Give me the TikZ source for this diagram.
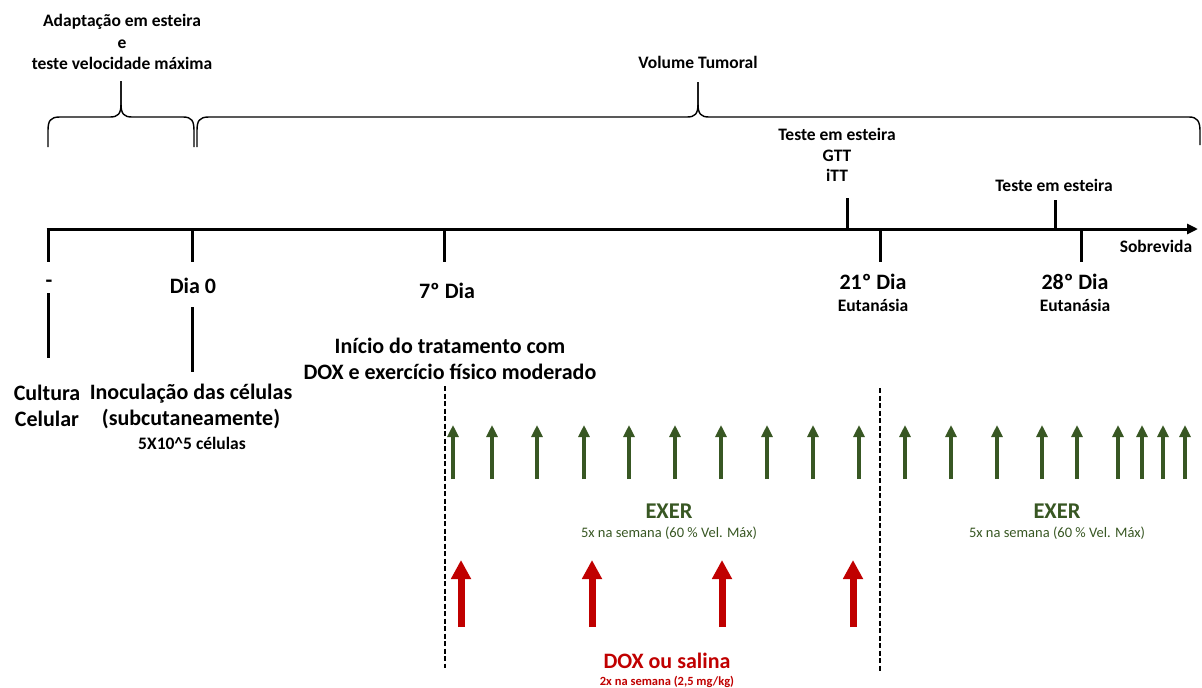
\documentclass[tikz,border=0pt]{standalone}
\usepackage{fontspec}
\setmainfont{Carlito}
\usetikzlibrary{arrows.meta}
\definecolor{exgreen}{HTML}{385723}
\definecolor{doxred}{HTML}{C00000}
\begin{document}
\begin{tikzpicture}[x=1pt,y=-1pt,
  big/.style={font=\bfseries\fontsize{22}{26}\selectfont, align=center, inner sep=0pt},
  mid/.style={font=\bfseries\fontsize{17.5}{20.5}\selectfont, align=center, inner sep=0pt},
  axisline/.style={line width=3pt, -{Triangle[width=10pt,length=11pt]}},
  tickline/.style={line width=3pt},
  bracepath/.style={line width=1.4pt, line join=round},
  dashline/.style={line width=1.5pt, dash pattern=on 5pt off 2.5pt},
  exarrow/.style={draw=exgreen, line width=4.8pt, -{Triangle[width=11pt,length=12pt]}},
  doxarrow/.style={draw=doxred, line width=7pt, -{Triangle[width=19pt,length=19pt]}},
  exhead/.style={font=\bfseries\fontsize{22.5}{26}\selectfont, text=exgreen, inner sep=0pt},
  exsub/.style={font=\fontsize{14.5}{17}\selectfont, text=exgreen, inner sep=0pt},
  doxhead/.style={font=\bfseries\fontsize{22}{26}\selectfont, text=doxred, inner sep=0pt},
  doxsub/.style={font=\bfseries\fontsize{12.5}{15}\selectfont, text=doxred, inner sep=0pt}
]
\useasboundingbox (0,0) rectangle (1202,688);

% top labels
\node[mid, font=\bfseries\fontsize{17.5}{21.5}\selectfont] (adapt) at (122,42) {Adaptação em esteira\\e\\teste velocidade máxima};
\node[mid] (vol) at (698,62) {Volume Tumoral};

% braces
\draw[bracepath] (48,147) -- (48,131) .. controls (48,121) and (50,117) .. (60,117) -- (110,117)
  .. controls (118,117) and (121,114) .. (121,104) -- (121,81);
\draw[bracepath] (121,81) -- (121,104) .. controls (121,114) and (124,117) .. (132,117) -- (183,117)
  .. controls (192,117) and (194,121) .. (194,131) -- (194,147);
\draw[bracepath] (197,147) -- (197,131) .. controls (197,121) and (199,117) .. (209,117) -- (687,117)
  .. controls (695,117) and (698,114) .. (698,104) -- (698,82);
\draw[bracepath] (698,82) -- (698,104) .. controls (698,114) and (701,117) .. (709,117) -- (1189,117)
  .. controls (1197,117) and (1200,121) .. (1200,131) -- (1200,145);

% timeline
\coordinate (tstart) at (46.5,229);
\coordinate (tend) at (1198,229);
\draw[axisline] (tstart) -- (tend);

% ticks down
\foreach \n/\x in {a/48,b/192,c/444,d/880,e/1081}{
  \coordinate (\n top) at (\x,229);
  \coordinate (\n bot) at (\x,262);
  \draw[tickline] (\n top) -- (\n bot);
}
% ticks up
\foreach \n/\x/\y in {f/847/198,g/1055/200}{
  \coordinate (\n top) at (\x,\y);
  \coordinate (\n bot) at (\x,229);
  \draw[tickline] (\n top) -- (\n bot);
}

% test labels
\node[mid] (teste1) at (837,155) {Teste em esteira\\GTT\\iTT};
\node[mid] (teste2) at (1054,185) {Teste em esteira};
\node[mid] (sobre) at (1156,246) {Sobrevida};

% day labels
\node[big] (dash) at (49,284) {-};
\node[big] (dia0) at (193,286) {Dia 0};
\node[big] (dia7) at (447,291) {7º Dia};
\node[big] (dia21) at (873,282) {21º Dia};
\node[mid] (eut21) at (873,305) {Eutanásia};
\node[big] (dia28) at (1075,282) {28º Dia};
\node[mid] (eut28) at (1075,305) {Eutanásia};

% vertical connectors to lower labels
\coordinate (cultop) at (48,293);
\coordinate (culbot) at (48,358);
\draw[tickline] (cultop) -- (culbot);
\coordinate (inotop) at (192,307);
\coordinate (inobot) at (192,372);
\draw[tickline] (inotop) -- (inobot);

\node[big] (cultura) at (47,406) {Cultura\\Celular};
\node[big] (inoc) at (191,406) {Inoculação das células\\(subcutaneamente)};
\node[mid] (cells) at (192,443) {5X10\^{}5 células};
\node[big] (inicio) at (450,359) {Início do tratamento com\\DOX e exercício físico moderado};

% dashed separators
\coordinate (d1top) at (445,386);
\coordinate (d1bot) at (445,668);
\coordinate (d2top) at (880,388);
\coordinate (d2bot) at (880,672);
\draw[dashline] (d1top) -- (d1bot);
\draw[dashline] (d2top) -- (d2bot);

% exercise arrows
\foreach \x [count=\i] in {453,492,537,584,629,675,721,767,813,859,905,951,997,1042,1077,1118,1142,1163,1185}{
  \coordinate (ex\i b) at (\x,479);
  \coordinate (ex\i t) at (\x,425);
  \draw[exarrow] (ex\i b) -- (ex\i t);
}
% dox arrows
\foreach \x [count=\i] in {461,592,722,853}{
  \coordinate (dx\i b) at (\x,627);
  \coordinate (dx\i t) at (\x,560);
  \draw[doxarrow] (dx\i b) -- (dx\i t);
}

\node[exhead] (exer1) at (669,511) {EXER};
\node[exsub] (exsub1) at (669,533) {5x na semana (60 \% Vel. Máx)};
\node[exhead] (exer2) at (1057,511) {EXER};
\node[exsub] (exsub2) at (1057,533) {5x na semana (60 \% Vel. Máx)};
\node[doxhead] (dox) at (667,661) {DOX ou salina};
\node[doxsub] (doxs) at (667,682) {2x na semana (2,5 mg/kg)};
\end{tikzpicture}
\end{document}
